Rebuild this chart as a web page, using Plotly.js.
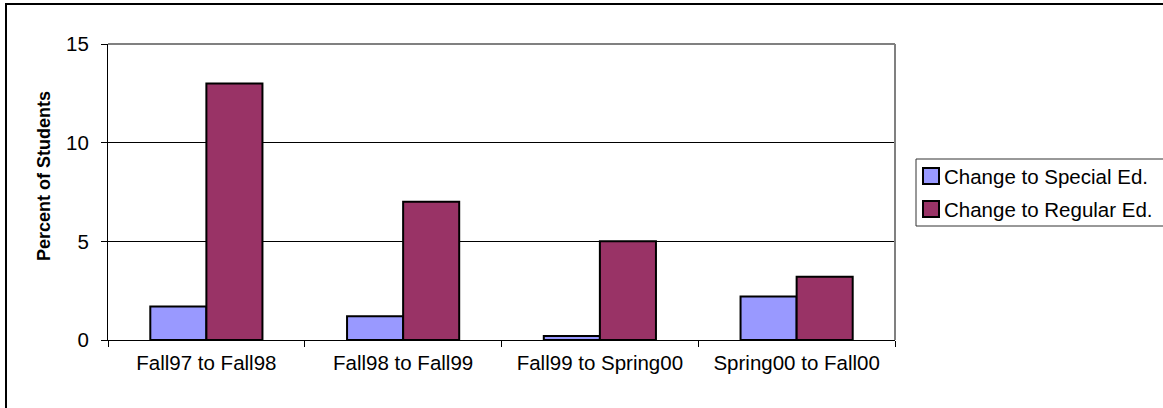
<!DOCTYPE html>
<html>
<head>
<meta charset="utf-8">
<script src="https://cdn.plot.ly/plotly-3.0.1.min.js"></script>
<style>
html,body{margin:0;padding:0;background:#fff;overflow:hidden;}
#wrap{position:relative;width:1163px;height:408px;overflow:hidden;}
#frame{position:absolute;left:5px;top:3px;width:1300px;height:500px;border:2px solid #000;box-sizing:border-box;pointer-events:none;z-index:5;}
#chart{position:absolute;left:0;top:0;width:1163px;height:408px;}
</style>
</head>
<body>
<div id="wrap"><div id="chart"></div><div id="frame"></div></div>
<script>
const categories = ["Fall97 to Fall98", "Fall98 to Fall99", "Fall99 to Spring00", "Spring00 to Fall00"];
const specialEd = [1.7, 1.2, 0.2, 2.2];
const regularEd = [13, 7, 5, 3.2];
const seriesNames = ["Change to Special Ed.", "Change to Regular Ed."];
const seriesColors = ["#9999FF", "#993366"];
const yTicks = [0, 5, 10, 15];
const yTitle = "Percent of Students";

const FAM = "Arial, 'Liberation Sans', sans-serif";
const font = {family: FAM, size: 20.5, color: "#000"};

const traces = [
  {type: "bar", name: seriesNames[0], x: categories, y: specialEd,
   marker: {color: seriesColors[0], line: {color: "#000", width: 2}}, hoverinfo: "none"},
  {type: "bar", name: seriesNames[1], x: categories, y: regularEd,
   marker: {color: seriesColors[1], line: {color: "#000", width: 2}}, hoverinfo: "none"}
];

// Plot area: x 108..895 px, y 44..340 px
const L = 108, R = 895, T = 44, B = 340;
const px = v => (v - L) / (R - L);
const py = v => (B - v) / (B - T);

// Legend (drawn as box + swatches + labels, like the original)
const legendShapes = [
  {type: "rect", xref: "paper", yref: "paper", x0: px(916), x1: px(1200), y0: py(226), y1: py(159),
   line: {color: "#333", width: 1}, fillcolor: "#fff", layer: "above"}
];
const rowY = [176, 209];
const annotations = [];
seriesNames.forEach((n, i) => {
  legendShapes.push({type: "rect", xref: "paper", yref: "paper",
    x0: px(923), x1: px(939), y0: py(rowY[i] + 8), y1: py(rowY[i] - 8),
    line: {color: "#000", width: 2}, fillcolor: seriesColors[i], layer: "above"});
  annotations.push({xref: "paper", yref: "paper", x: px(942), y: py(rowY[i]),
    xanchor: "left", yanchor: "middle", showarrow: false, text: n, font: font});
});
annotations.push({xref: "paper", yref: "paper", x: px(44), y: py(176),
  xanchor: "center", yanchor: "middle", showarrow: false, textangle: -90,
  text: "<b>" + yTitle + "</b>", font: {family: FAM, size: 18, color: "#000"}});

const layout = {
  width: 1163, height: 408,
  margin: {l: L, r: 1163 - R, t: T, b: 408 - B, pad: 0},
  paper_bgcolor: "#fff", plot_bgcolor: "#fff",
  font: font,
  barmode: "group", bargap: 0.43, bargroupgap: 0,
  showlegend: false,
  xaxis: {type: "category", tickson: "boundaries", ticks: "outside", ticklen: 6,
    tickcolor: "#000", tickwidth: 1, showline: true, linecolor: "#000", linewidth: 1,
    showgrid: false, tickfont: font, fixedrange: true, ticklabelstandoff: 4},
  yaxis: {range: [0, 15], tickvals: yTicks, ticktext: yTicks.map(String),
    ticks: "outside", ticklen: 6, tickcolor: "#000", tickwidth: 1,
    showline: true, linecolor: "#000", linewidth: 1,
    showgrid: true, gridcolor: "#000", gridwidth: 1, zeroline: false,
    tickfont: font, fixedrange: true, ticklabelstandoff: 8},
  shapes: [
    {type: "line", xref: "paper", yref: "paper", x0: 0, x1: 1, y0: 1, y1: 1,
     line: {color: "#808080", width: 2}},
    {type: "line", xref: "paper", yref: "paper", x0: 1, x1: 1, y0: 0, y1: 1,
     line: {color: "#808080", width: 2}}
  ].concat(legendShapes),
  annotations: annotations
};

Plotly.newPlot("chart", traces, layout, {displayModeBar: false, staticPlot: true});
</script>
</body>
</html>
